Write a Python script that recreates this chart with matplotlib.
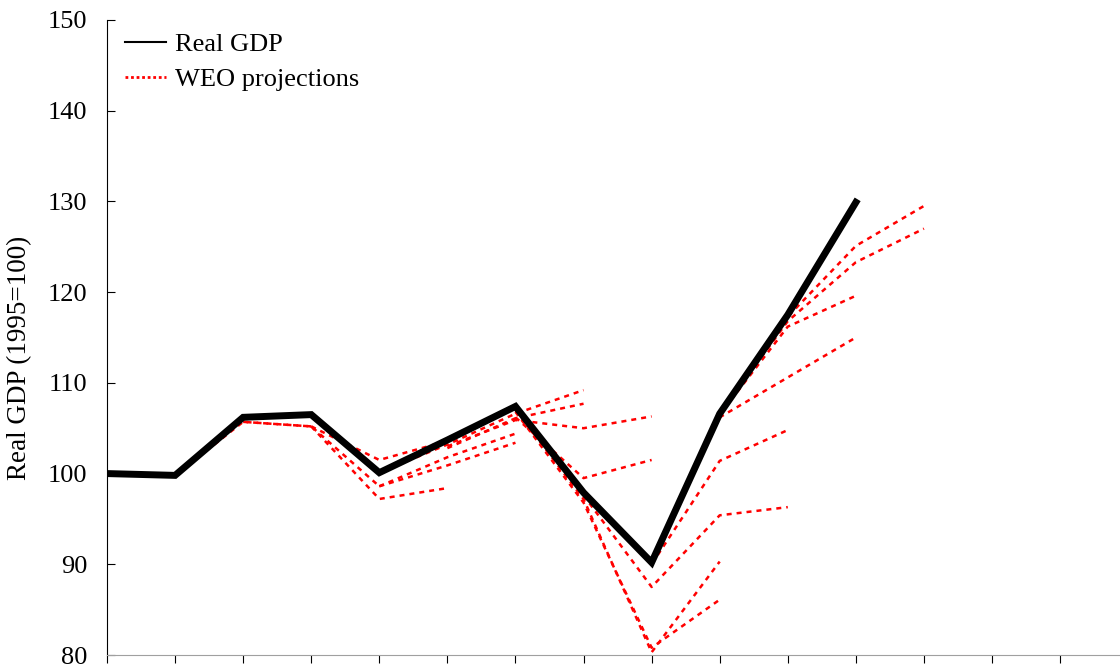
import numpy as np
import matplotlib.pyplot as plt
from matplotlib.lines import Line2D

plt.rcParams['font.family'] = ['Liberation Serif', 'DejaVu Serif']

# actual real GDP index (1995=100)
years = list(range(1995, 2007))
real_gdp = [100.0, 99.8, 106.2, 106.5, 100.1, 103.7, 107.4, 97.9, 90.2, 106.6, 117.5, 129.9]

# axis ticks run a few years past the data
tick_years = list(range(1995, 2010))

# WEO vintages: first year of each projection path and its values
proj_first_year = [1996, 1997, 1998, 1998, 1999, 1999, 1999, 2000,
                   2000, 2001, 2001, 2001, 2002, 2002, 2003, 2003, 2004, 2004]
proj_values = [
    [99.8, 105.7, 105.2],
    [105.7, 105.2, 98.6],
    [105.2, 101.5, 103.6],
    [105.2, 97.2, 98.4],
    [98.6, 101.8, 104.4],
    [98.6, 100.9, 103.4],
    [100.1, 103.2, 106.6, 109.2],
    [102.8, 106.1, 107.7],
    [103.0, 105.9, 105.0, 106.3],
    [106.2, 99.5, 101.5],
    [107.0, 97.2, 80.3, 90.3],
    [106.8, 96.8, 80.8, 86.1],
    [97.6, 87.5, 95.4, 96.3],
    [97.9, 90.0, 101.4, 104.8],
    [90.2, 106.2, 110.6, 115.0],
    [90.4, 106.5, 116.2, 119.6],
    [106.6, 116.8, 123.3, 127.0],
    [106.6, 117.3, 125.1, 129.5],
]

fig = plt.figure(figsize=(11.2, 6.67), dpi=100)
ax = fig.add_axes([107 / 1120, 12 / 667, 1013 / 1120, 635 / 667])

# projections first, thick actual line on top
for y0, vals in zip(proj_first_year, proj_values):
    ax.plot(range(y0, y0 + len(vals)), vals, color='red', lw=1.8, dashes=(2, 2))
ax.plot(years, real_gdp, color='black', lw=5, solid_joinstyle='miter', zorder=3)

ax.set_xlim(1995, 1995 + 14.88)
ax.set_ylim(80, 150)
ax.set_yticks(range(80, 151, 10))
ax.set_xticks(tick_years)
ax.set_xticklabels([])
ax.tick_params(axis='y', direction='in', length=6, pad=14, labelsize=19)
ax.tick_params(axis='x', direction='out', length=6)
ax.spines['top'].set_visible(False)
ax.spines['right'].set_visible(False)
ax.spines['bottom'].set_color('#a0a0a0')

handles = [Line2D([], [], color='black', lw=1.5),
           Line2D([], [], color='red', lw=2, linestyle=(0, (1, 1)))]
ax.legend(handles, ['Real GDP', 'WEO projections'], loc='upper left',
          bbox_to_anchor=(125 / 1120, 1 - 33 / 667), bbox_transform=fig.transFigure,
          frameon=False, fontsize=19, handlelength=1.57, handletextpad=0.33,
          labelspacing=0.42, borderpad=0, borderaxespad=0)

fig.text(20 / 1120, 1 - 358 / 667, 'Real GDP (1995=100)', rotation=90,
         ha='center', va='center', fontsize=19.5)

fig.savefig('out.png', dpi=100)
